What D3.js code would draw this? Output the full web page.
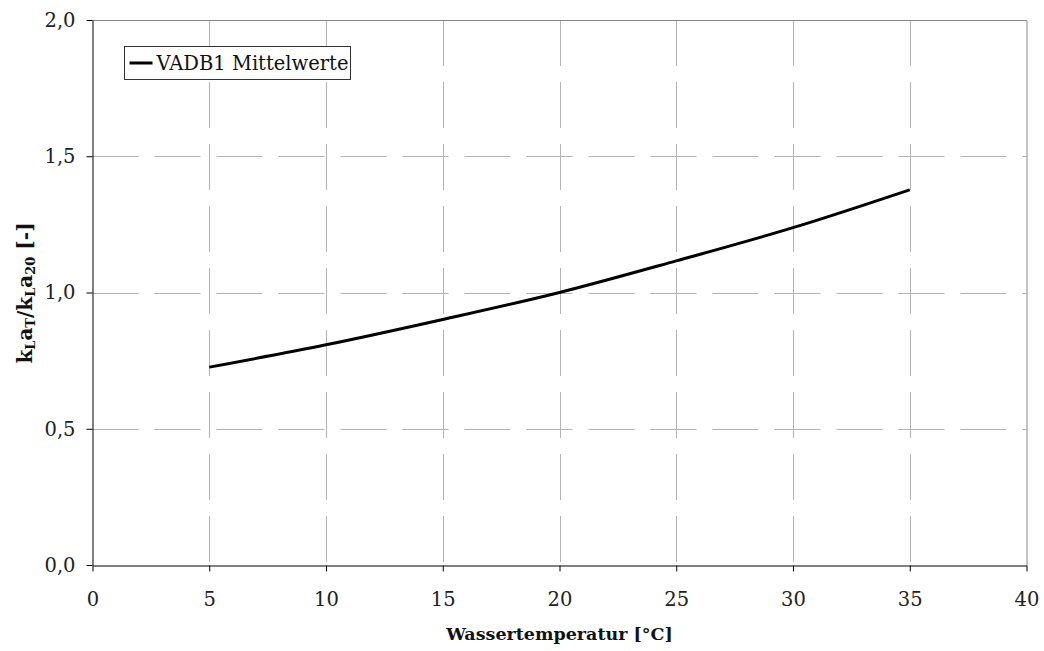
<!DOCTYPE html>
<meta charset="utf-8">
<style>
body { margin: 0; background: #fff; }
svg { font-family: "DejaVu Serif", serif; }
.grid line { stroke: #b4b4b4; stroke-width: 1; stroke-dasharray: 46,16; }
.axis path, .axis line { stroke: #000; }
.axis text { font-size: 19.5px; fill: #222; }
.series { fill: none; stroke: #000; stroke-width: 3; }
.title { font-size: 17.5px; font-weight: bold; fill: #111; }
.ytitle { font-size: 20px; }
.sub { font-size: 13px; }
</style>
<svg width="1044" height="651"></svg>
<script src="https://d3js.org/d3.v7.min.js"></script>
<script>

var temps  = [5, 10, 15, 20, 25, 30, 35];
var ratios = [0.726, 0.808, 0.901, 1.0, 1.116, 1.238, 1.377];
var xTicks = [0, 5, 10, 15, 20, 25, 30, 35, 40];
var yTicks = [0, 0.5, 1.0, 1.5, 2.0];
var seriesName = "VADB1 Mittelwerte";

var svg = d3.select("svg"),
    pLeft = 92.5, pRight = 1026.5, pTop = 20, pBottom = 565;

var x = d3.scaleLinear().domain([0, 40]).range([pLeft, pRight]);
var y = d3.scaleLinear().domain([0, 2]).range([pBottom, pTop]);
var fmt = function(d) { return d3.format(".1f")(d).replace(".", ","); };

// grid
var grid = svg.append("g").attr("class", "grid");
grid.selectAll(".v").data(xTicks.filter(function(d) { return d > 0 && d < 40; }))
  .enter().append("line")
    .attr("x1", function(d) { return Math.round(x(d)) + 0.5; })
    .attr("x2", function(d) { return Math.round(x(d)) + 0.5; })
    .attr("y1", pTop).attr("y2", pBottom);
grid.selectAll(".h").data(yTicks.filter(function(d) { return d > 0 && d < 2; }))
  .enter().append("line")
    .attr("y1", function(d) { return Math.round(y(d)) + 0.5; })
    .attr("y2", function(d) { return Math.round(y(d)) + 0.5; })
    .attr("x1", pLeft).attr("x2", pRight);

// plot border (top, right)
svg.append("path")
    .attr("d", "M" + pLeft + "," + (pTop + 0.5) + "H" + (pRight + 0.5) + "V" + pBottom)
    .attr("fill", "none").attr("stroke", "#888");

// axes
svg.append("g").attr("class", "axis")
    .attr("transform", "translate(0," + (pBottom + 0.5) + ")")
    .call(d3.axisBottom(x).tickValues(xTicks).tickSize(6).tickSizeOuter(0).tickPadding(21))
    .call(function(g) { g.attr("font-family", null).attr("font-size", null); });

svg.append("g").attr("class", "axis")
    .attr("transform", "translate(" + pLeft + ",0)")
    .call(d3.axisLeft(y).tickValues(yTicks).tickFormat(fmt).tickSize(6).tickSizeOuter(0).tickPadding(11))
    .call(function(g) { g.attr("font-family", null).attr("font-size", null); });

// series
var line = d3.line()
    .x(function(d, i) { return x(temps[i]); })
    .y(function(d) { return y(d); })
    .curve(d3.curveMonotoneX);

svg.append("path").datum(ratios).attr("class", "series").attr("d", line);

// legend
var lg = svg.append("g").attr("transform", "translate(124.5,46.5)");
lg.append("rect").attr("width", 226).attr("height", 33)
    .attr("fill", "#fff").attr("stroke", "#333");
lg.append("line").attr("x1", 5).attr("x2", 28).attr("y1", 16.5).attr("y2", 16.5)
    .attr("stroke", "#000").attr("stroke-width", 3);
lg.append("text").attr("x", 32).attr("y", 23.5).attr("font-size", 19.5).attr("fill", "#111").text(seriesName);

// axis titles
svg.append("text").attr("class", "title")
    .attr("x", (pLeft + pRight) / 2).attr("y", 640)
    .attr("text-anchor", "middle").text("Wassertemperatur [°C]");

var yt = svg.append("text").attr("class", "title ytitle")
    .attr("transform", "translate(32,293) rotate(-90)")
    .attr("text-anchor", "middle");
yt.append("tspan").text("k");
yt.append("tspan").attr("class", "sub").attr("baseline-shift", "-25%").text("L");
yt.append("tspan").text("a");
yt.append("tspan").attr("class", "sub").attr("baseline-shift", "-25%").text("T");
yt.append("tspan").text("/k");
yt.append("tspan").attr("class", "sub").attr("baseline-shift", "-25%").text("L");
yt.append("tspan").text("a");
yt.append("tspan").attr("class", "sub").attr("baseline-shift", "-25%").text("20");
yt.append("tspan").text(" [-]");

</script>
